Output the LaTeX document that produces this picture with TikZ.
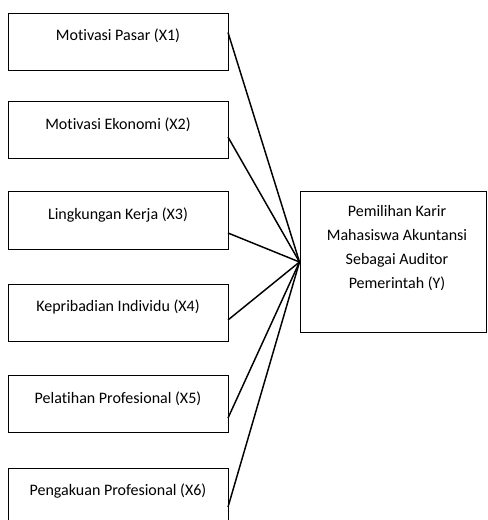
\documentclass[tikz,border=0pt]{standalone}
\usepackage{fontspec}
\setmainfont{Carlito}[Ligatures={NoCommon}]
\begin{document}
\begin{tikzpicture}[x=0.75pt,y=-0.75pt,
  box/.style={draw, line width=0.75pt, minimum width=165pt, minimum height=42.75pt, inner sep=0pt},
  lbl/.style={font=\fontsize{12pt}{14pt}\selectfont, anchor=base, inner sep=0pt},
  conn/.style={line width=1.1pt}]
\useasboundingbox (0,0) rectangle (487,520);
% left boxes
\node[box] (x1) at (118,42.5) {};
\node[box] (x2) at (118,130) {};
\node[box] (x3) at (118,220.5) {};
\node[box] (x4) at (118,312.5) {};
\node[box] (x5) at (118,404) {};
\node[box] (x6) at (118,496.5) {};
\node[lbl] (t1) at (118,40.5) {Motivasi Pasar (X1)};
\node[lbl] (t2) at (118,129.5) {Motivasi Ekonomi (X2)};
\node[lbl] (t3) at (118,219.5) {Lingkungan Kerja (X3)};
\node[lbl] (t4) at (118,311.5) {Kepribadian Individu (X4)};
\node[lbl] (t5) at (118,403.5) {Pelatihan Profesional (X5)};
\node[lbl] (t6) at (118,495.5) {Pengakuan Profesional (X6)};
% right box
\node[box, minimum width=139.5pt, minimum height=105pt] (y) at (393,262) {};
\node[lbl, align=center, anchor=north, font=\fontsize{12pt}{18pt}\selectfont] (ty) at (397,205)
  {Pemilihan Karir\\Mahasiswa Akuntansi\\Sebagai Auditor\\Pemerintah (Y)};
% connector start points
\coordinate (s1) at (228,32.5);
\coordinate (s2) at (228,137);
\coordinate (s3) at (228,233);
\coordinate (s4) at (228,320);
\coordinate (s5) at (228,418);
\coordinate (s6) at (228,507);
\foreach \i in {1,...,6} \draw[conn] (s\i) -- (y.west);
\end{tikzpicture}
\end{document}
